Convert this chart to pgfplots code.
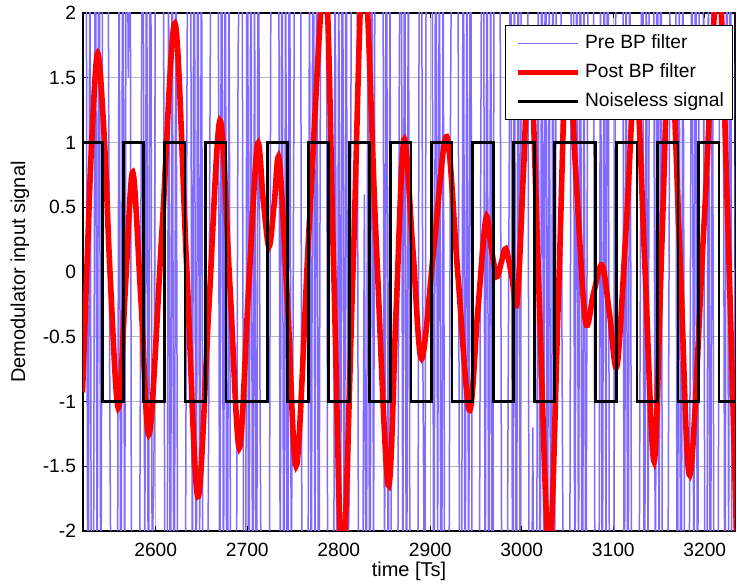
\documentclass[border=0pt]{standalone}
\usepackage{pgfplots}
\pgfplotsset{compat=1.18}
\usepackage{pgfplotstable}
\usepackage{fontspec}
\setmainfont{Liberation Sans}
\definecolor{preblue}{RGB}{128,106,255}
\definecolor{gridgray}{RGB}{185,185,185}

\pgfplotstableread{
y
3.1
4.4
2.7
-3.8
2.9
-4.1
-2.6
3.5
-2.9
4.2
-3.3
2.8
4.6
3.9
2.4
-1.3
-3.7
-4.5
-2.8
-3.2
2.6
-3.6
3.8
-2.7
4.1
1.5
3.3
-4.4
-3.9
-2.5
-4.8
-3.1
0.8
3.6
-2.4
3.2
-3.5
4.7
-2.2
-1.6
3.4
4.9
3.7
2.8
4.2
-2.9
-4.6
2.5
-3.4
3.1
-4.0
2.6
-2.7
-3.8
-4.5
-2.3
-3.6
1.2
4.4
3.0
-2.6
4.1
-3.9
3.5
-2.1
2.9
-4.3
-3.0
-3.7
-0.9
2.4
3.9
4.5
2.2
3.6
-3.3
4.0
-2.8
3.2
-4.6
2.7
-3.4
-2.5
-4.7
-3.1
1.7
2.6
3.8
-2.4
-3.9
4.3
-2.8
3.1
-3.6
2.3
-4.2
3.7
-1.1
-3.4
-2.6
-4.1
-3.5
-2.9
2.8
4.6
3.3
2.1
4.0
-2.5
3.4
-3.8
2.7
-4.4
3.9
-2.3
-0.5
3.2
4.7
2.9
3.6
-3.2
-4.6
-2.7
-3.9
2.4
-3.1
4.2
-2.6
3.5
-4.0
1.9
3.8
2.6
4.5
-2.9
-3.7
-2.2
-4.8
3.0
-3.3
2.5
-2.7
4.1
-3.6
3.3
-2.4
-1.4
2.8
4.4
3.2
2.5
-3.9
-4.3
-2.8
0.6
-3.5
2.9
-4.1
3.7
-2.3
4.0
3.1
2.4
4.8
3.5
-2.6
3.9
-3.2
2.2
-4.5
-3.0
-2.4
-3.8
1.3
4.3
-2.7
3.4
-3.6
2.7
-2.9
-4.2
-3.3
-2.6
-4.4
2.8
3.7
-0.8
-3.1
4.6
2.3
3.9
2.6
-3.5
4.1
-2.2
3.0
-4.7
2.5
-3.4
-2.8
-3.7
1.1
3.6
4.4
2.9
3.3
-2.5
-4.0
3.8
-3.1
2.4
-2.7
4.5
-3.9
-2.3
-3.6
-4.4
-1.7
2.6
3.5
-2.9
3.2
-3.4
2.7
-4.1
3.8
2.2
4.6
3.0
-2.4
-3.8
-4.5
-2.6
0.4
3.5
-3.2
2.9
-4.3
3.6
-2.1
4.2
3.4
2.5
4.9
-2.8
-3.7
-1.2
-4.0
-3.3
2.3
-3.5
3.9
-2.6
4.1
-3.0
2.7
-4.6
3.3
-2.4
3.7
2.8
4.3
-0.7
-3.4
-4.2
-2.7
-3.9
2.6
4.5
-3.2
3.0
-2.5
3.8
-4.4
2.2
-3.1
1.8
3.6
2.4
4.0
-2.9
-3.6
-4.1
2.7
-3.3
3.4
-2.2
4.7
-3.8
-2.6
-4.3
1.4
3.1
2.5
3.9
4.4
-3.5
2.8
-4.0
3.2
-2.7
-3.4
-2.3
-4.6
-3.1
0.9
3.7
-3.8
2.6
-2.4
4.5
3.3
2.9
-3.0
4.2
-2.8
3.6
-4.1
-2.5
-3.7
-1.9
2.4
3.8
4.6
2.7
-3.3
2.2
-4.4
3.1
-2.6
-3.9
-4.2
-0.6
3.5
-2.9
4.0
-3.6
2.5
4.3
3.4
-2.3
-3.8
2.8
-4.5
3.2
-2.7
-3.1
-4.0
1.6
3.9
2.6
-3.4
4.1
-2.2
3.7
-4.3
-2.8
3.0
2.4
}\noisy

\begin{document}
\begin{tikzpicture}
\useasboundingbox (-41.5pt,-28pt) rectangle (327pt,265.5pt);
\begin{axis}[
  at={(0,0)}, anchor=south west,
  scale only axis, width=326pt, height=259pt,
  xmin=2520.5, xmax=3233, ymin=-2, ymax=2,
  xtick={2600,2700,2800,2900,3000,3100,3200},
  ytick={-2,-1.5,-1,-0.5,0,0.5,1,1.5,2},
  yticklabels={-2,-1.5,-1,-0.5,0,0.5,1,1.5,2},
  /pgf/number format/1000 sep={},
  /pgf/number format/assume math mode=true,
  tick label style={font=\fontsize{9.6}{11}\selectfont},
  xticklabel style={yshift=-2.5pt},
  label style={font=\fontsize{9.6}{11}\selectfont},
  xlabel={time [Ts]},
  ylabel={Demodulator input signal},
  every axis x label/.style={at={(axis description cs:0.5,-0.0772)}, anchor=center},
  every axis y label/.style={at={(axis description cs:-0.0966,0.5)}, rotate=90, anchor=center},
  grid=major,
  major grid style={line width=0.5pt, draw=gridgray},
  tick align=inside, major tick length=2.5pt,
  tick style={black, line width=0.5pt},
  axis line style={line width=0.6pt},
  legend image code/.code={\path (-2.8pt,0pt); \draw[#1] (0pt,0pt) -- (30pt,0pt);},
  legend cell align=left,
  legend style={at={(axis description cs:0.9965,0.977)}, anchor=north east,
    draw=black, line width=0.5pt, fill=white,
    font=\fontsize{9.6}{11}\selectfont,
    inner xsep=2pt, inner ysep=1.8pt, row sep=0pt,
    nodes={inner sep=2.2pt, text height=7.5pt, text depth=2.6pt}},
]
\addplot[preblue, line width=0.75pt] table[x expr=2520+2*\coordindex, y=y] {\noisy};
\addlegendentry{Pre BP filter}

\addplot[red, line width=2.8pt, smooth, tension=0.55] coordinates {
(2520,-0.93) (2524.6,0.0) (2530,1.0) (2536.6,1.69) (2544,1.0) (2550,0.0)
(2559,-1.05) (2567,-0.1) (2574.9,0.77) (2584,-0.24) (2593,-1.25)
(2607,0.34) (2621,1.92) (2633.5,0.09) (2645.9,-1.735) (2658,-0.28)
(2670.2,1.17) (2681,-0.1) (2691.3,-1.36) (2701,-0.19) (2711,0.98)
(2717.5,0.55) (2723.8,0.195) (2729.5,0.53) (2735,0.865) (2744.5,-0.31)
(2754,-1.49) (2768,0.4) (2785,2.3) (2794.5,0.0) (2804,-2.3) (2815.5,0.0)
(2827,2.45) (2840.5,0.3) (2854,-1.645) (2862.6,-0.31) (2871.2,1.02)
(2881,0.17) (2890.5,-0.67) (2904,0.19) (2917.9,1.045) (2930,-0.01)
(2942.6,-1.065) (2951.7,-0.32) (2960.8,0.415) (2966.5,0.19) (2972.5,-0.036)
(2977.5,0.07) (2982.6,0.18) (2989,-0.03) (2995,-0.23) (3002,0.8)
(3009,1.8) (3019,-0.2) (3030,-2.2) (3040,-0.2) (3049.4,1.8) (3059.5,0.7)
(3069.5,-0.38) (3078.5,-0.16) (3087.8,0.054) (3096,-0.33) (3104.2,-0.72)
(3114.5,0.4) (3124.6,1.55) (3134.5,0.05) (3144.6,-1.465) (3153,0.2)
(3162,1.85) (3173,0.1) (3183.6,-1.57) (3199,0.35) (3214.5,2.3)
(3225,0.4) (3236,-2.4)
};
\addlegendentry{Post BP filter}

\addplot[black, line width=1.4pt, const plot] coordinates {
(2520,1) (2542.1,-1) (2564.6,1) (2587.0,-1) (2609.5,1) (2631.9,-1)
(2654.4,1) (2676.8,-1) (2721.7,1) (2744.2,-1) (2766.6,1) (2789.1,-1)
(2811.5,1) (2834.0,-1) (2856.4,1) (2878.9,-1) (2901.3,1) (2923.8,-1)
(2946.2,1) (2968.7,-1) (2991.1,1) (3013.6,-1) (3036.0,1) (3080.9,-1)
(3103.4,1) (3125.8,-1) (3148.3,1) (3170.7,-1) (3193.2,1) (3215.6,-1)
(3233,-1)
};
\addlegendentry{Noiseless signal}
\end{axis}
\end{tikzpicture}
\end{document}
